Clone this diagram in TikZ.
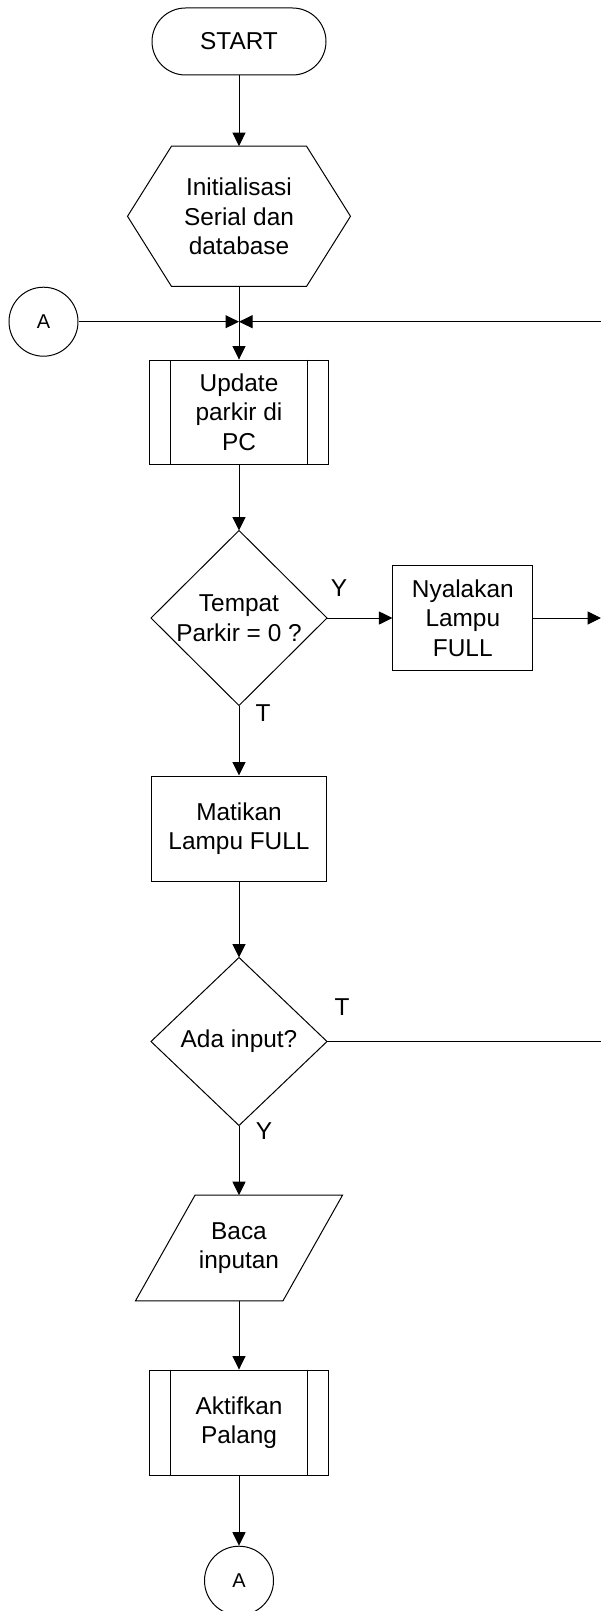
\documentclass[tikz,border=0pt]{standalone}
\usepackage{fontspec}
\setmainfont{Liberation Sans}
\usetikzlibrary{arrows.meta,calc}
\begin{document}
\begin{tikzpicture}[x=0.5pt,y=-0.5pt,line width=0.5pt,
  every node/.style={font=\fontsize{12.2}{14.75}\selectfont,align=center,inner sep=0pt},
  flow/.style={-{Triangle[length=6.75pt,width=6.5pt]}},
  box/.style={draw,minimum width=87.5pt,minimum height=52.5pt},
  connector/.style={draw,circle,minimum size=34.5pt,font=\fontsize{10}{12}\selectfont},
  lbl/.style={font=\fontsize{12.2}{14.75}\selectfont}]
\useasboundingbox (0,0) rectangle (601,1611);

% terminal
\node[draw,rounded corners=16.75pt,minimum width=87pt,minimum height=33.5pt] (start) at (239,41.5) {START};

% preparation (hexagon)
\node[minimum width=111pt,minimum height=69.65pt] (init) at (239,216.3) {Initialisasi\\Serial dan\\database};
\draw (init.west) -- ([xshift=22pt]init.north west) -- ([xshift=-22pt]init.north east)
  -- (init.east) -- ([xshift=-22pt]init.south east) -- ([xshift=22pt]init.south west) -- cycle;

% loop entry
\node[connector] (aleft) at (43.5,321.7) {A};
\coordinate (join) at (239,321.7);
\coordinate (loopin) at (601,321.7);

% predefined process: update
\node[box,minimum width=89.5pt,minimum height=52.15pt] (upd) at (239,412.2) {Update\\parkir di\\PC};
\draw ([xshift=10.9pt]upd.north west) -- ([xshift=10.9pt]upd.south west);
\draw ([xshift=-10.9pt]upd.north east) -- ([xshift=-10.9pt]upd.south east);

% decision: parking full
\node[minimum width=87.5pt,minimum height=87pt] (dec1) at (239,618) {Tempat\\Parkir = 0 ?};
\draw (dec1.north) -- (dec1.east) -- (dec1.south) -- (dec1.west) -- cycle;

\node[box,minimum width=69.85pt,minimum height=52.5pt] (lampon) at (462.8,618) {Nyalakan\\Lampu\\FULL};
\coordinate (fullout) at (601,618);

\node[box] (lampoff) at (239,828.5) {Matikan\\Lampu FULL};

% decision: input
\node[minimum width=87.5pt,minimum height=83.5pt] (dec2) at (239,1041.5) {Ada input?};
\draw (dec2.north) -- (dec2.east) -- (dec2.south) -- (dec2.west) -- cycle;
\coordinate (noinput) at (601,1041.5);

% input (parallelogram)
\node[minimum width=103pt,minimum height=52.3pt] (read) at (239,1248) {Baca\\inputan};
\draw (read.south west) -- ([xshift=29.75pt]read.north west) -- (read.north east)
  -- ([xshift=-29.75pt]read.south east) -- cycle;

% predefined process: gate
\node[box,minimum width=89.15pt,minimum height=52.65pt] (gate) at (239,1422.7) {Aktifkan\\Palang};
\draw ([xshift=10.5pt]gate.north west) -- ([xshift=10.5pt]gate.south west);
\draw ([xshift=-10.5pt]gate.north east) -- ([xshift=-10.5pt]gate.south east);

\node[connector] (abottom) at (239,1580.7) {A};

% connectors
\draw[flow] (start) -- (init);
\draw[flow] (init) -- (upd);
\draw[flow] (aleft) -- (join);
\draw[flow] (loopin) -- (join);
\draw[flow] (upd) -- (dec1.north);
\draw[flow] (dec1.east) -- (lampon);
\draw[flow] (lampon) -- (fullout);
\draw[flow] (dec1.south) -- (lampoff);
\draw[flow] (lampoff) -- (dec2.north);
\draw (dec2.east) -- (noinput);
\draw[flow] (dec2.south) -- (read);
\draw[flow] (read) -- (gate);
\draw[flow] (gate) -- (abottom);

% branch labels
\node[lbl] at (339,588) {Y};
\node[lbl] at (263,713) {T};
\node[lbl] at (342,1007) {T};
\node[lbl] at (264,1131) {Y};
\end{tikzpicture}
\end{document}
